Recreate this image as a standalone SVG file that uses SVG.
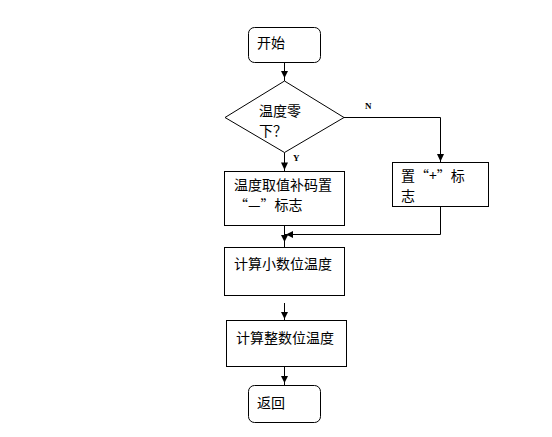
<svg xmlns="http://www.w3.org/2000/svg" width="552" height="437" viewBox="0 0 552 437">
<style>
.box{fill:#fff;stroke:#000;stroke-width:1}
.t{font-family:"Noto Sans CJK SC","Liberation Sans",sans-serif;font-size:14px;fill:#000}
.lbl{font-family:"Liberation Serif","DejaVu Serif",serif;font-size:9px;font-weight:bold;fill:#000}
.ln{fill:none;stroke:#000;stroke-width:1}
.ah{fill:#000;stroke:none}
</style>
<rect width="552" height="437" fill="#fff"/>
<g id="connectors">
<path class="ln" d="M284.5,62.5V81"/>
<polygon class="ah" points="281,71 288,71 284.5,78"/>
<path class="ln" d="M284.5,152.5V171"/>
<polygon class="ah" points="281,162.5 288,162.5 284.5,170"/>
<path class="ln" d="M344,117.5H440.5V162"/>
<polygon class="ah" points="437,154 444,154 440.5,161.5"/>
<path class="ln" d="M440.5,206.5V234.5H284.5"/>
<polygon class="ah" points="286,234.5 293,231 293,238"/>
<path class="ln" d="M284.5,225V247"/>
<polygon class="ah" points="281,235 288,235 284.5,242"/>
<path class="ln" d="M284.5,303V320.5"/>
<polygon class="ah" points="281,312 288,312 284.5,319"/>
<path class="ln" d="M284.5,367V385.5"/>
<polygon class="ah" points="281,376 288,376 284.5,383"/>
<text class="lbl" x="365" y="108.5">N</text>
<text class="lbl" x="293" y="160.5">Y</text>
</g>
<g id="start">
<rect class="box" x="248.5" y="27.5" width="72" height="35" rx="6"/>
<text class="t" x="257" y="48">开始</text>
</g>
<g id="decision">
<polygon class="box" points="284.5,81 344,117.5 284.5,152.5 225,117.5"/>
<text class="t" x="259" y="116">温度零</text>
<text class="t" x="259" y="136">下？</text>
</g>
<g id="negative">
<rect class="box" x="224.5" y="171.5" width="120" height="54"/>
<text class="t" x="234" y="190">温度取值补码置</text>
<text class="t" x="234" y="210">“—”标志</text>
</g>
<g id="positive">
<rect class="box" x="392.5" y="162.5" width="96" height="44"/>
<text class="t" x="401" y="181">置“+”标</text>
<text class="t" x="401" y="201">志</text>
</g>
<g id="fraction">
<rect class="box" x="224.5" y="247.5" width="120" height="48"/>
<text class="t" x="234" y="269">计算小数位温度</text>
</g>
<g id="integer">
<rect class="box" x="226.5" y="320.5" width="120" height="46"/>
<text class="t" x="236" y="343">计算整数位温度</text>
</g>
<g id="end">
<rect class="box" x="248.5" y="385.5" width="72" height="37" rx="6"/>
<text class="t" x="257" y="408">返回</text>
</g>
</svg>
